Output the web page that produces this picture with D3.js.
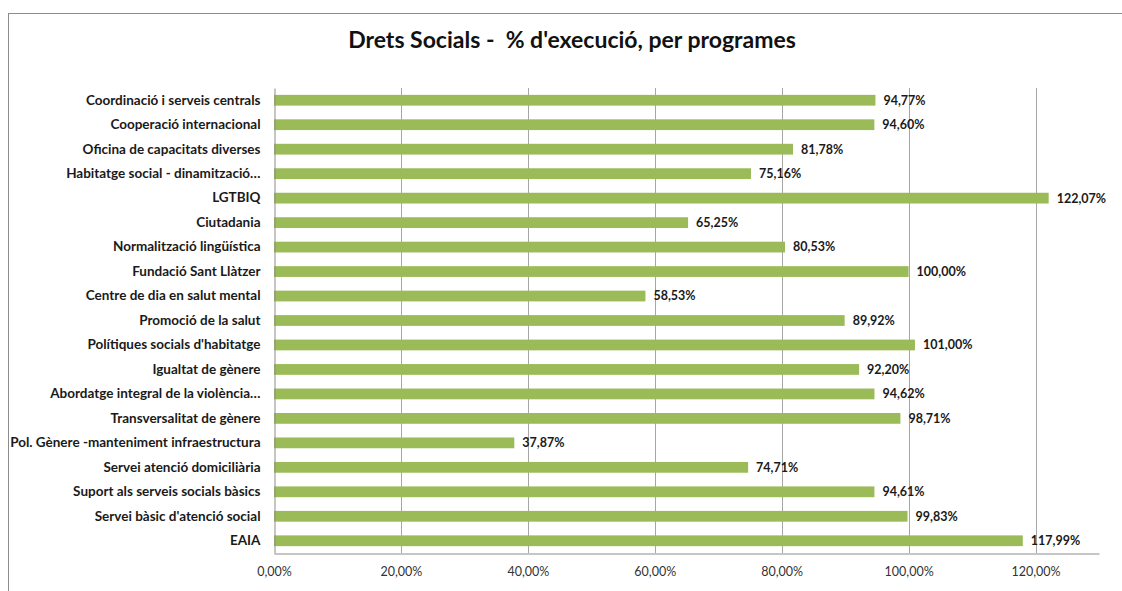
<!DOCTYPE html>
<html>
<head>
<meta charset="utf-8">
<script src="https://cdn.jsdelivr.net/npm/d3@7"></script>
<style>
  body { margin: 0; background: #fff; }
  text { font-family: Lato, "Open Sans", sans-serif; }
</style>
</head>
<body>
<div id="chart"></div>
<script>
// programes (top to bottom) and % d'execució
var programes = [
  "Coordinació i serveis centrals",
  "Cooperació internacional",
  "Oficina de capacitats diverses",
  "Habitatge social - dinamització…",
  "LGTBIQ",
  "Ciutadania",
  "Normalització lingüística",
  "Fundació Sant Llàtzer",
  "Centre de dia en salut mental",
  "Promoció de la salut",
  "Polítiques socials d'habitatge",
  "Igualtat de gènere",
  "Abordatge integral de la violència…",
  "Transversalitat de gènere",
  "Pol. Gènere -manteniment infraestructura",
  "Servei atenció domiciliària",
  "Suport als serveis socials bàsics",
  "Servei bàsic d'atenció social",
  "EAIA"
];
var execucio = [94.77, 94.60, 81.78, 75.16, 122.07, 65.25, 80.53, 100.00, 58.53, 89.92,
                101.00, 92.20, 94.62, 98.71, 37.87, 74.71, 94.61, 99.83, 117.99];
var ticks = [0, 20, 40, 60, 80, 100, 120];

var width = 1122, height = 591;
var margin = {top: 88, right: 23, bottom: 38, left: 274};

var fmt = function(v){ return d3.format(".2f")(v).replace(".", ",") + "%"; };

var data = programes.map(function(p, i){ return {name: p, value: execucio[i]}; });

var svg = d3.select("#chart")
            .append("svg")
            .attr("width", width)
            .attr("height", height);

// chart frame
svg.append("rect")
   .attr("x", 8.5).attr("y", 13.5)
   .attr("width", width + 10).attr("height", height + 10)
   .attr("fill", "none")
   .attr("stroke", "#8c8c8c")
   .attr("stroke-width", 1);

svg.append("text")
   .attr("x", 572).attr("y", 48)
   .attr("text-anchor", "middle")
   .style("font-size", "23px")
   .style("font-weight", "bold")
   .style("white-space", "pre")
   .attr("fill", "#111")
   .text("Drets Socials -  % d'execució, per programes");

var x = d3.scaleLinear()
          .domain([0, 130])
          .range([margin.left, width - margin.right]);

var y = d3.scaleBand()
          .domain(programes)
          .range([margin.top, height - margin.bottom])
          .paddingInner(0.56)
          .paddingOuter(0.28);

// gridlines
svg.append("g")
   .selectAll("line")
   .data(ticks.slice(1))
   .enter()
   .append("line")
   .attr("x1", function(d){ return Math.round(x(d)) + 0.5; })
   .attr("x2", function(d){ return Math.round(x(d)) + 0.5; })
   .attr("y1", margin.top)
   .attr("y2", height - margin.bottom)
   .attr("stroke", "#a6a6a6");

// bars
svg.append("g")
   .selectAll("rect")
   .data(data)
   .enter()
   .append("rect")
   .attr("x", x(0))
   .attr("y", function(d){ return y(d.name); })
   .attr("width", function(d){ return x(d.value) - x(0); })
   .attr("height", y.bandwidth())
   .attr("fill", "#9bbb59");

// value labels
svg.append("g")
   .selectAll("text")
   .data(data)
   .enter()
   .append("text")
   .attr("x", function(d){ return x(d.value) + 8; })
   .attr("y", function(d){ return y(d.name) + y.bandwidth() / 2; })
   .attr("dy", "0.35em")
   .style("font-size", "12.5px")
   .style("font-weight", "bold")
   .attr("fill", "#1a1a1a")
   .text(function(d){ return fmt(d.value); });

// y axis
var yAxis = svg.append("g")
   .attr("transform", "translate(" + (margin.left + 0.5) + ",0)")
   .call(d3.axisLeft(y).tickSize(0).tickPadding(14));
yAxis.select(".domain").attr("stroke", "#8c8c8c");
yAxis.selectAll("text")
     .style("font-size", "13.5px")
     .style("font-weight", "bold")
     .attr("fill", "#1a1a1a");

// x axis
var xAxis = svg.append("g")
   .attr("transform", "translate(0," + (height - margin.bottom + 0.5) + ")")
   .call(d3.axisBottom(x).tickValues(ticks).tickSize(0).tickPadding(14).tickFormat(fmt));
xAxis.select(".domain").attr("stroke", "#8c8c8c");
xAxis.selectAll("text")
     .style("font-size", "12.5px")
     .attr("fill", "#333");
</script>
</body>
</html>
